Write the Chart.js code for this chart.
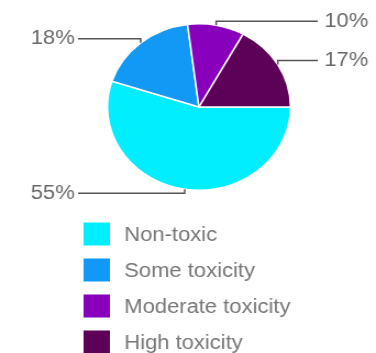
<!DOCTYPE html>
<html>
<head>
<meta charset="utf-8">
<script src="https://cdn.jsdelivr.net/npm/chart.js@4.4.1/dist/chart.umd.min.js"></script>
<style>
  html, body { margin: 0; padding: 0; background: #fff; overflow: hidden; }
  #wrap { width: 342px; height: 353px; transform: scaleX(1.0994); transform-origin: 0 0; position: relative; }
</style>
</head>
<body>
<div id="wrap"><canvas id="c"></canvas></div>
<script>
const categories = ["Non-toxic", "Some toxicity", "Moderate toxicity", "High toxicity"];
const values = [55, 18, 10, 17];
const percentLabels = ["55%", "18%", "10%", "17%"];
const colors = ["#00EEFF", "#1199F5", "#8800BB", "#5C0058"];

const FONT = '"Liberation Sans", Arial, Helvetica, sans-serif';

const overlay = {
  id: 'overlay',
  afterDraw(chart) {
    const ctx = chart.ctx;
    const meta = chart.getDatasetMeta(0);
    ctx.save();
    ctx.font = '20px ' + FONT;
    ctx.textBaseline = 'middle';
    meta.data.forEach((arc, i) => {
      const p = arc.getProps(['x', 'y', 'startAngle', 'endAngle', 'outerRadius'], true);
      const mid = (p.startAngle + p.endAngle) / 2;
      const ax = p.x + Math.cos(mid) * p.outerRadius;
      const ay = p.y + Math.sin(mid) * p.outerRadius;
      const right = Math.cos(mid) > 0;
      const lineY = ay + (Math.sin(mid) < 0 ? -4 : 4);
      const endX = right ? 289 : 71;
      ctx.strokeStyle = '#555';
      ctx.lineWidth = 1.5;
      ctx.beginPath();
      ctx.moveTo(ax, ay);
      ctx.lineTo(ax, lineY);
      ctx.lineTo(endX, lineY);
      ctx.stroke();
      ctx.fillStyle = '#6a6a6a';
      ctx.textAlign = right ? 'left' : 'right';
      ctx.fillText(percentLabels[i], right ? endX + 6 : endX - 3, lineY);
    });
    // legend
    categories.forEach((name, i) => {
      const cy = 234 + i * 36;
      ctx.fillStyle = colors[i];
      ctx.fillRect(76, cy - 11.5, 24, 23);
      ctx.fillStyle = '#777';
      ctx.textAlign = 'left';
      ctx.fillText(name, 113, cy + 1);
    });
    ctx.restore();
  }
};

new Chart(document.getElementById('c'), {
  type: 'pie',
  data: {
    labels: categories,
    datasets: [{
      data: values,
      backgroundColor: colors,
      borderColor: '#ffffff',
      borderWidth: 1.5
    }]
  },
  options: {
    responsive: true,
    maintainAspectRatio: false,
    animation: false,
    rotation: 90,
    layout: { padding: { top: 23, bottom: 162, left: 97, right: 77 } },
    plugins: {
      legend: { display: false },
      tooltip: { enabled: false }
    }
  },
  plugins: [overlay]
});
</script>
</body>
</html>
